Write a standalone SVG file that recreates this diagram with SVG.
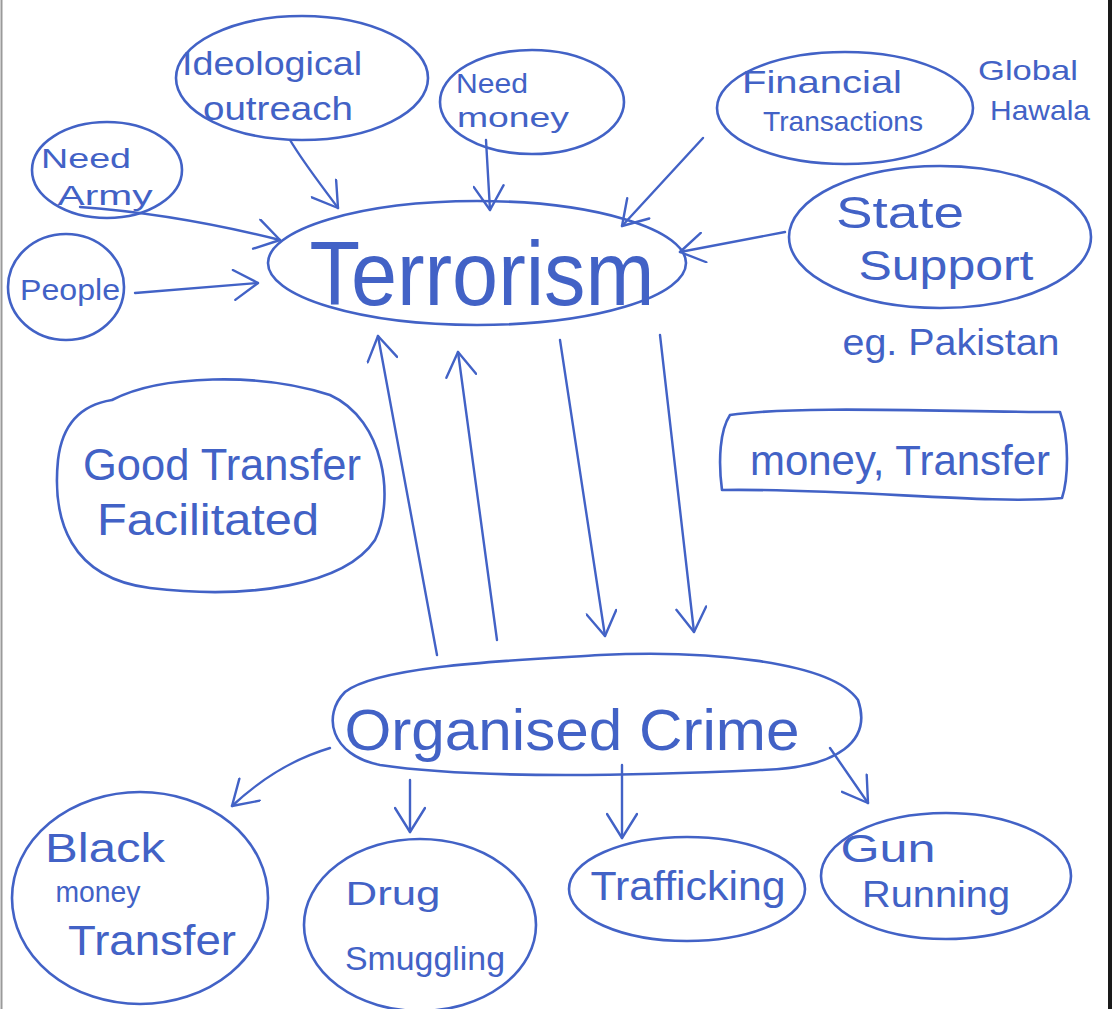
<svg xmlns="http://www.w3.org/2000/svg" width="1115" height="1009" viewBox="0 0 1115 1009">
<defs>
<style>
.n{fill:none;stroke:#4262c6;stroke-width:2.6;stroke-linecap:round;stroke-linejoin:round}
.t{fill:#4262c6;font-family:"Liberation Sans",Arial,sans-serif;text-anchor:middle}
.c{fill:none;stroke:#4262c6;stroke-width:2.4;stroke-linecap:round;marker-end:url(#ah)}
</style>
<marker id="ah" viewBox="0 0 30 32" refX="28" refY="16" markerWidth="30" markerHeight="32" markerUnits="userSpaceOnUse" orient="auto">
<path d="M4,1 L28,16 L4,31" fill="none" stroke="#4262c6" stroke-width="2.4" stroke-linecap="round" stroke-linejoin="round"/>
</marker>
</defs>
<rect width="1115" height="1009" fill="#ffffff"/>
<line x1="1.5" y1="0" x2="1.5" y2="1009" stroke="#9a9a9a" stroke-width="2"/>
<line x1="1110" y1="0" x2="1110" y2="1009" stroke="#1a1a1a" stroke-width="4"/>

<g id="ideological">
<ellipse class="n" cx="302" cy="78" rx="126" ry="62"/>
<text class="t" x="272" y="75" font-size="34" textLength="180" lengthAdjust="spacingAndGlyphs">Ideological</text>
<text class="t" x="278" y="120" font-size="34" textLength="150" lengthAdjust="spacingAndGlyphs">outreach</text>
</g>
<g id="need-money">
<ellipse class="n" cx="532" cy="102" rx="92" ry="52"/>
<text class="t" x="492" y="93" font-size="28" textLength="72" lengthAdjust="spacingAndGlyphs">Need</text>
<text class="t" x="513" y="127" font-size="28" textLength="112" lengthAdjust="spacingAndGlyphs">money</text>
</g>
<g id="financial">
<ellipse class="n" cx="845" cy="108" rx="128" ry="56"/>
<text class="t" x="822" y="93" font-size="32" textLength="160" lengthAdjust="spacingAndGlyphs">Financial</text>
<text class="t" x="843" y="131" font-size="28" textLength="160" lengthAdjust="spacingAndGlyphs">Transactions</text>
</g>
<g id="global-hawala">
<text class="t" x="1028" y="80" font-size="28" textLength="100" lengthAdjust="spacingAndGlyphs">Global</text>
<text class="t" x="1040" y="120" font-size="28" textLength="100" lengthAdjust="spacingAndGlyphs">Hawala</text>
</g>
<g id="need-army">
<ellipse class="n" cx="107" cy="170" rx="75" ry="48"/>
<text class="t" x="86" y="168" font-size="28" textLength="90" lengthAdjust="spacingAndGlyphs">Need</text>
<text class="t" x="105" y="205" font-size="28" textLength="95" lengthAdjust="spacingAndGlyphs">Army</text>
</g>
<g id="people">
<ellipse class="n" cx="66" cy="287" rx="58" ry="53"/>
<text class="t" x="70" y="300" font-size="30" textLength="100" lengthAdjust="spacingAndGlyphs">People</text>
</g>
<g id="terrorism">
<ellipse class="n" cx="477" cy="263" rx="209" ry="62"/>
<text class="t" x="482" y="305" font-size="90" textLength="345" lengthAdjust="spacingAndGlyphs">Terrorism</text>
</g>
<g id="state-support">
<ellipse class="n" cx="940" cy="237" rx="151" ry="71"/>
<text class="t" x="900" y="228" font-size="44" textLength="128" lengthAdjust="spacingAndGlyphs">State</text>
<text class="t" x="946" y="280" font-size="42" textLength="175" lengthAdjust="spacingAndGlyphs">Support</text>
</g>
<g id="eg-pakistan">
<text class="t" x="951" y="355" font-size="36" textLength="217" lengthAdjust="spacingAndGlyphs">eg. Pakistan</text>
</g>
<g id="good-transfer">
<path class="n" d="M112,400 C160,375 260,372 330,395 C385,420 395,500 375,540 C345,585 250,600 150,588 C70,578 52,520 58,460 C62,425 80,405 112,400"/>
<text class="t" x="222" y="480" font-size="44" textLength="278" lengthAdjust="spacingAndGlyphs">Good Transfer</text>
<text class="t" x="208" y="535" font-size="44" textLength="222" lengthAdjust="spacingAndGlyphs">Facilitated</text>
</g>
<g id="money-transfer">
<path class="n" d="M730,415 C800,405 950,412 1060,412 C1070,440 1068,480 1062,498 C990,505 850,488 722,490 C718,460 720,430 730,415"/>
<text class="t" x="900" y="475" font-size="42" textLength="300" lengthAdjust="spacingAndGlyphs">money, Transfer</text>
</g>
<g id="organised-crime">
<path class="n" d="M345,692 C380,665 520,660 600,655 C700,650 830,660 858,700 C872,740 840,768 760,770 C650,775 480,780 380,765 C330,755 322,715 345,692"/>
<text class="t" x="572" y="750" font-size="58" textLength="455" lengthAdjust="spacingAndGlyphs">Organised Crime</text>
</g>
<g id="black-money">
<ellipse class="n" cx="140" cy="898" rx="128" ry="106"/>
<text class="t" x="105" y="862" font-size="40" textLength="120" lengthAdjust="spacingAndGlyphs">Black</text>
<text class="t" x="98" y="902" font-size="30" textLength="85" lengthAdjust="spacingAndGlyphs">money</text>
<text class="t" x="152" y="955" font-size="42" textLength="168" lengthAdjust="spacingAndGlyphs">Transfer</text>
</g>
<g id="drug-smuggling">
<ellipse class="n" cx="420" cy="925" rx="116" ry="86"/>
<text class="t" x="393" y="905" font-size="34" textLength="95" lengthAdjust="spacingAndGlyphs">Drug</text>
<text class="t" x="425" y="970" font-size="34" textLength="160" lengthAdjust="spacingAndGlyphs">Smuggling</text>
</g>
<g id="trafficking">
<ellipse class="n" cx="687" cy="889" rx="118" ry="52"/>
<text class="t" x="688" y="900" font-size="40" textLength="195" lengthAdjust="spacingAndGlyphs">Trafficking</text>
</g>
<g id="gun-running">
<ellipse class="n" cx="946" cy="876" rx="125" ry="63"/>
<text class="t" x="888" y="862" font-size="38" textLength="95" lengthAdjust="spacingAndGlyphs">Gun</text>
<text class="t" x="936" y="907" font-size="36" textLength="148" lengthAdjust="spacingAndGlyphs">Running</text>
</g>

<g id="connectors">
<path class="c" d="M290,140 C305,165 325,190 338,208"/>
<path class="c" d="M486,140 L490,210"/>
<path class="c" d="M703,138 L622,226"/>
<path class="c" d="M785,232 L680,252"/>
<path class="c" d="M80,207 C150,212 220,225 280,240"/>
<path class="c" d="M135,293 L258,283"/>
<path class="c" d="M437,655 L378,336"/>
<path class="c" d="M497,640 L458,352"/>
<path class="c" d="M560,340 L605,636"/>
<path class="c" d="M660,335 L694,632"/>
<path class="c" d="M330,748 C290,760 260,780 232,806"/>
<path class="c" d="M410,780 L410,832"/>
<path class="c" d="M622,765 L622,838"/>
<path class="c" d="M830,748 L868,803"/>
</g>
</svg>
